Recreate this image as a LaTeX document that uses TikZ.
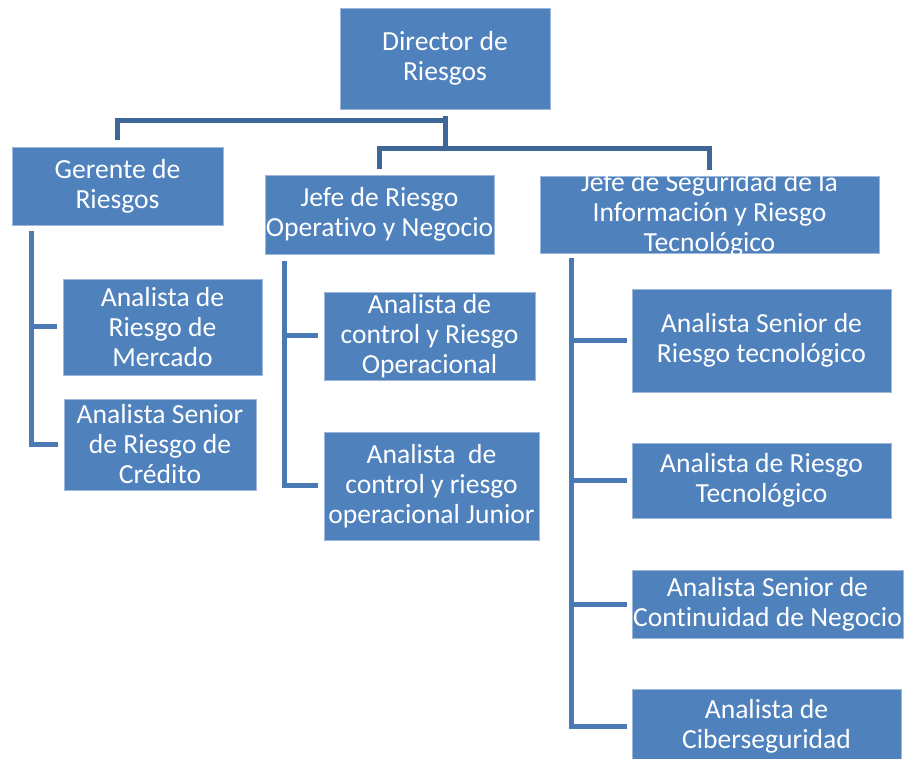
\documentclass[tikz,border=0pt]{standalone}
\usepackage{fontspec}
\setmainfont{Carlito}[Ligatures={NoCommon}]
\definecolor{boxblue}{HTML}{4F81BD}
\definecolor{boxedge}{HTML}{9DB8DA}
\definecolor{linedark}{HTML}{3E6697}
\definecolor{lineblue}{HTML}{4A79B5}
\usepackage{tikz}
\usetikzlibrary{positioning, calc}

\tikzset{
  cargo/.style n args={3}{rectangle, fill=boxblue, draw=boxedge, line width=0.8pt,
    inner sep=0pt, minimum width=#1, minimum height=#2, label={[cargotext]center:#3}},
  cargotext/.style={text=white, align=center, inner sep=0pt,
    font=\fontsize{27.6}{30}\selectfont},
  toplink/.style={draw=linedark, line width=5pt},
  sublink/.style={draw=lineblue, line width=5pt},
}

\begin{document}
\begin{tikzpicture}[x=1pt, y=-1pt]
      \useasboundingbox (0,0) rectangle (906,759);
      % Direccion
      \node[cargo={210pt}{101pt}{Director de\\Riesgos}] (dir) at (445,58.5) {};
      % Jefaturas
      \node[cargo={211pt}{78pt}{Gerente de\\Riesgos}] (ger) at (117.5,186) {};
      \node[cargo={229pt}{79pt}{Jefe de Riesgo\\Operativo y Negocio}] (jro) at (379.5,214.5) {};
      \node[cargo={339pt}{77pt}{Jefe de Seguridad de la\\Información y Riesgo\\Tecnológico}] (jsi) at (709.5,214.5) {};
      % Analistas
      \node[cargo={199pt}{96pt}{Analista de\\Riesgo de\\Mercado}] (amr) at (162.5,327) {};
      \node[cargo={192pt}{91pt}{Analista Senior\\de Riesgo de\\Crédito}] (acr) at (160,444.5) {};
      \node[cargo={211pt}{88pt}{Analista de\\control y Riesgo\\Operacional}] (aco) at (429.5,336) {};
      \node[cargo={215pt}{108pt}{Analista\ \ de\\control y riesgo\\operacional Junior}] (acj) at (431.5,486) {};
      \node[cargo={259pt}{103pt}{Analista Senior de\\Riesgo tecnológico}] (ast) at (761.5,340.5) {};
      \node[cargo={259pt}{75pt}{Analista de Riesgo\\Tecnológico}] (art) at (761.5,480.5) {};
      \node[cargo={271pt}{68pt}{Analista Senior de\\Continuidad de Negocio}] (acn) at (767.5,604) {};
      \node[cargo={269pt}{74pt}{Analista de\\Ciberseguridad}] (aci) at (766.5,726) {};
      % Lineas de mando
      \coordinate (bus1) at (445,121);
      \coordinate (bus2) at (445,149);
      \draw[toplink, shorten <=7pt] (dir.south) -- (bus2);
      \draw[toplink, shorten >=7pt] (bus1) -| (ger.north);
      \draw[toplink, shorten >=6pt] (bus2) -| (jro.north);
      \draw[toplink, shorten >=6pt] (bus2) -| (jsi.north);
      % Ramas
      \foreach \j in {amr, acr}
        \draw[sublink, shorten <=6pt, shorten >=6pt] ([xshift=20pt]ger.south west) |- (\j.west);
      \foreach \j in {aco, acj}
        \draw[sublink, shorten <=7pt, shorten >=6pt] ([xshift=20pt]jro.south west) |- (\j.west);
      \foreach \j in {ast, art, acn, aci}
        \draw[sublink, shorten <=5pt, shorten >=5pt] ([xshift=32pt]jsi.south west) |- (\j.west);
    \end{tikzpicture}
\end{document}
